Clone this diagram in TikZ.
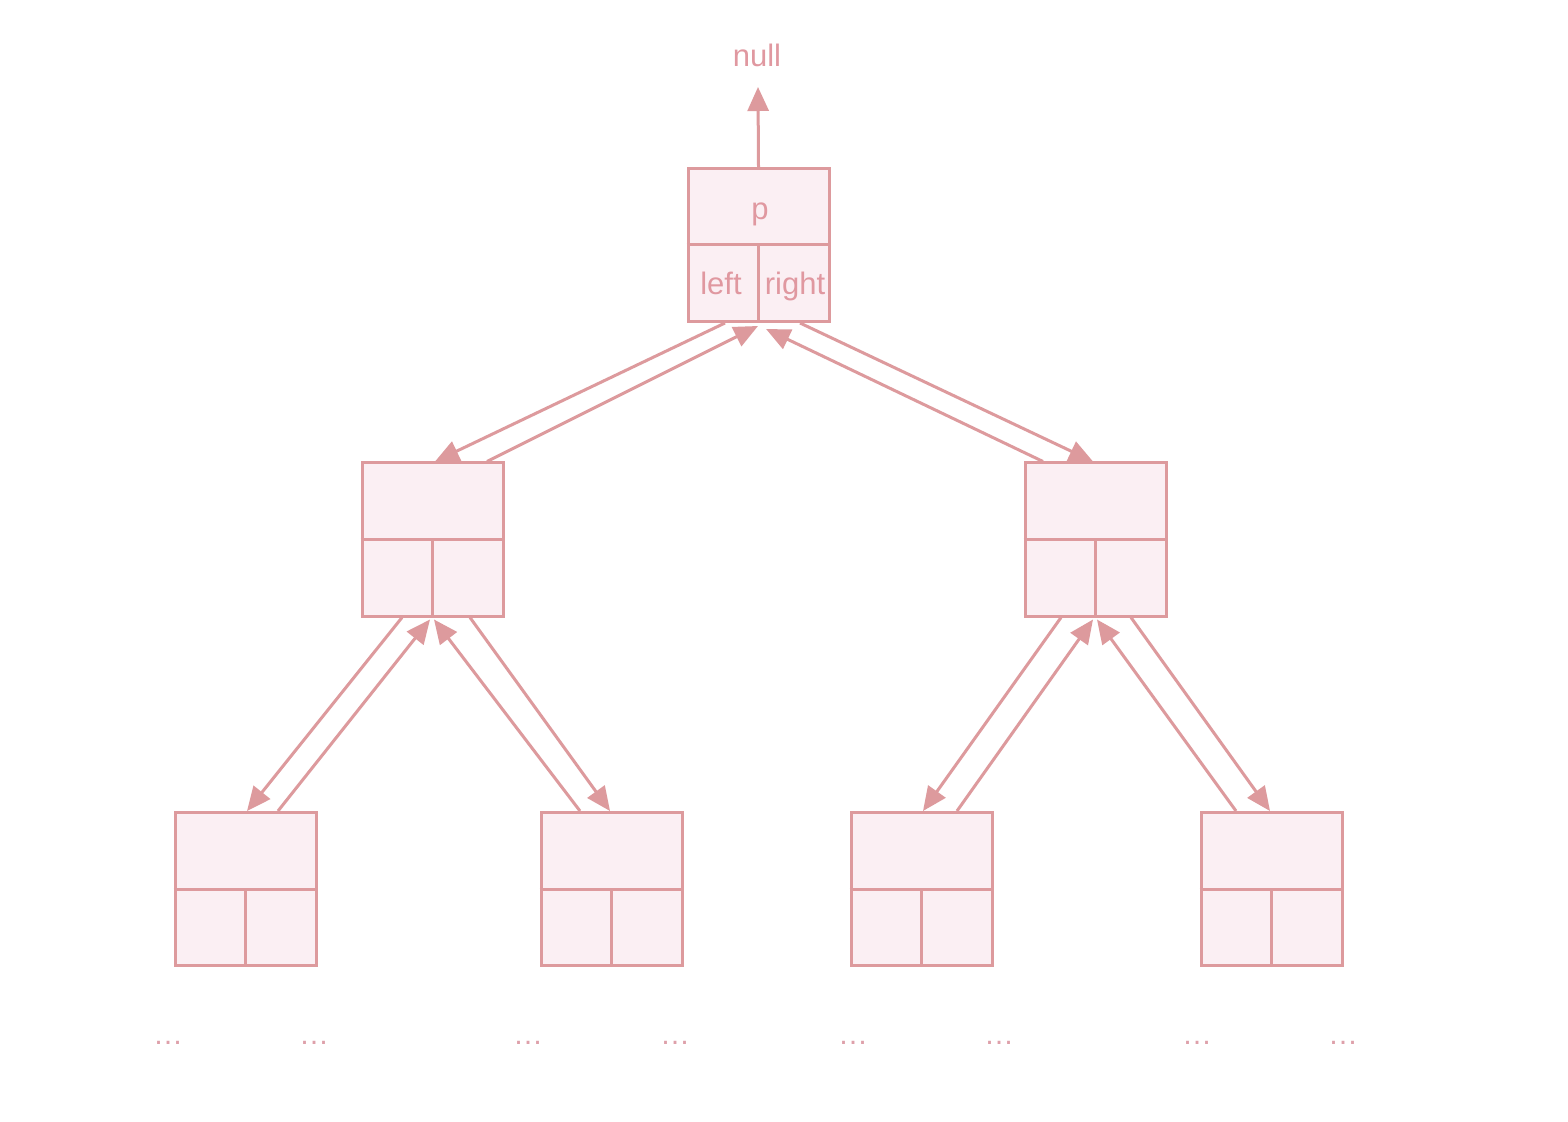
\documentclass[tikz,border=0pt]{standalone}
\usepackage{fontspec}
\setmainfont{Liberation Sans}
\usetikzlibrary{arrows.meta,calc}
\definecolor{edge}{RGB}{221,154,157}
\definecolor{cellfill}{RGB}{251,239,243}
\definecolor{txt}{RGB}{224,152,160}
\definecolor{dotc}{RGB}{222,160,170}
\begin{document}
\begin{tikzpicture}[x=0.5pt,y=-0.5pt,
  box/.style={draw=edge,fill=cellfill,line width=1.5pt,minimum width=70.5pt,minimum height=76.5pt,inner sep=0pt},
  divider/.style={draw=edge,line width=1.5pt},
  link/.style={draw=edge,line width=1.5pt,-{Triangle[length=12pt,width=10.5pt]},shorten >=0pt},
  lbl/.style={text=txt,font=\fontsize{15.5pt}{18pt}\selectfont,inner sep=0pt,anchor=base},
  dots/.style={text=dotc,font=\fontsize{15pt}{18pt}\selectfont,inner sep=0pt,anchor=base}]
\useasboundingbox (0,0) rectangle (1568,1122);
\fill[white] (0,0) rectangle (1568,1122);

% boxes
\foreach \n/\cx/\cy in {top/758.5/245, L/432.5/539.5, R/1095.5/539.5,
  B1/245.5/889, B2/611.5/889, B3/921.5/889, B4/1271.5/889}{
  \node[box] (\n) at (\cx,\cy) {};
  \draw[divider] (\n.west) -- (\n.east);
  \draw[divider] (\n.center) -- (\n.south);
}

% texts in top box
\node[lbl] (ptext) at (760,220) {p};
\node[lbl] (lefttext) at (721,295) {left};
\node[lbl] (righttext) at (795,295) {right};
\node[lbl] (null) at (757,67) {null};

% null arrow
\draw[link] (top.north) -- ($(null.base)+(1,20)$);

% top <-> mid
\draw[link] ($(top.south)+(-33.5,0)$) -- ($(L.north)+(2.5,0)$);
\draw[link] ($(L.north)+(54.5,0)$) -- ($(top.south)+(-0.5,3)$);
\draw[link] ($(R.north)+(-52.5,0)$) -- ($(top.south)+(7.5,6)$);
\draw[link] ($(top.south)+(41.5,0)$) -- ($(R.north)+(-2.5,0)$);

% left mid <-> bottom
\draw[link] ($(L.south)+(-30.5,0)$) -- ($(B1.north)+(1.5,0)$);
\draw[link] ($(B1.north)+(32.5,0)$) -- ($(L.south)+(-2.5,2)$);
\draw[link] ($(L.south)+(37.5,0)$) -- ($(B2.north)+(-1.5,0)$);
\draw[link] ($(B2.north)+(-31.5,0)$) -- ($(L.south)+(1.5,2)$);

% right mid <-> bottom
\draw[link] ($(R.south)+(-34.5,0)$) -- ($(B3.north)+(1.5,0)$);
\draw[link] ($(B3.north)+(35.5,0)$) -- ($(R.south)+(-2.5,2)$);
\draw[link] ($(R.south)+(35.5,0)$) -- ($(B4.north)+(-1.5,0)$);
\draw[link] ($(B4.north)+(-35.5,0)$) -- ($(R.south)+(1.5,2)$);

% ellipses
\foreach \i/\x in {1/168,2/314,3/528,4/675,5/853,6/999,7/1197,8/1343}{
  \node[dots] (d\i) at (\x,1044) {…};
}
\end{tikzpicture}
\end{document}
